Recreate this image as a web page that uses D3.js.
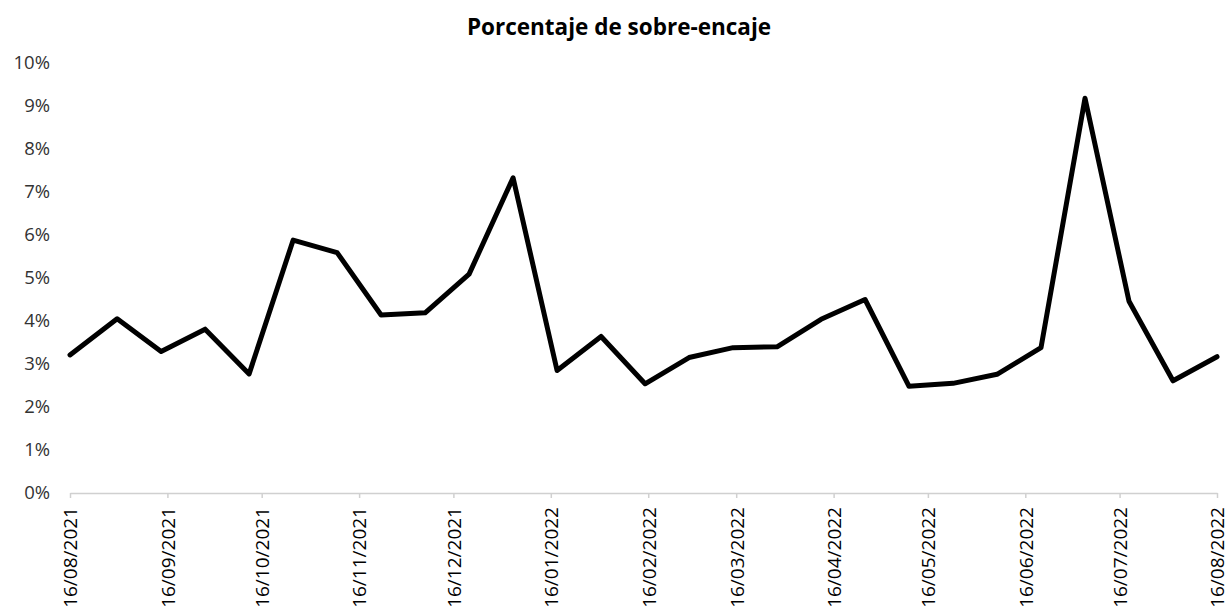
<!DOCTYPE html>
<html>
<head>
<meta charset="utf-8">
<script src="https://cdn.jsdelivr.net/npm/d3@7"></script>
<style>
  html, body { margin: 0; padding: 0; background: #fff; }
  svg { display: block; }
</style>
</head>
<body>
<svg id="chart" width="1229" height="610"></svg>
<script>
// Observation dates
const dates = [
  "16/08/2021", "31/08/2021", "14/09/2021", "28/09/2021", "12/10/2021",
  "26/10/2021", "09/11/2021", "23/11/2021", "07/12/2021", "21/12/2021",
  "04/01/2022", "18/01/2022", "01/02/2022", "15/02/2022", "01/03/2022",
  "15/03/2022", "29/03/2022", "12/04/2022", "26/04/2022", "10/05/2022",
  "24/05/2022", "07/06/2022", "21/06/2022", "05/07/2022", "19/07/2022",
  "02/08/2022", "16/08/2022"
];

// Over-reserve percentage (%)
const sobreEncaje = [
  3.21, 4.05, 3.29, 3.81, 2.77, 5.88, 5.59, 4.14, 4.19, 5.09,
  7.33, 2.85, 3.64, 2.54, 3.15, 3.38, 3.40, 4.04, 4.50, 2.48,
  2.55, 2.76, 3.38, 9.18, 4.46, 2.61, 3.17
];

// Axis tick labels
const xTickLabels = [
  "16/08/2021", "16/09/2021", "16/10/2021", "16/11/2021", "16/12/2021",
  "16/01/2022", "16/02/2022", "16/03/2022", "16/04/2022", "16/05/2022",
  "16/06/2022", "16/07/2022", "16/08/2022"
];
const yTicks = [0, 1, 2, 3, 4, 5, 6, 7, 8, 9, 10];

const title = "Porcentaje de sobre-encaje";

const parse = d3.timeParse("%d/%m/%Y");
const fmt = d3.timeFormat("%d/%m/%Y");
const data = dates.map((d, i) => ({ date: parse(d), value: sobreEncaje[i] }));
const xTickDates = xTickLabels.map(parse);

const svg = d3.select("#chart");
const margin = { left: 70, right: 12, top: 63, bottom: 117 };
const W = 1229, H = 610;

const x = d3.scaleTime()
  .domain([xTickDates[0], xTickDates[xTickDates.length - 1]])
  .range([margin.left, W - margin.right]);

const y = d3.scaleLinear()
  .domain([0, 10])
  .range([H - margin.bottom, margin.top]);

const font = "'Open Sans', 'Liberation Sans', sans-serif";

// Title
svg.append("text")
  .attr("x", 619)
  .attr("y", 35)
  .attr("text-anchor", "middle")
  .attr("font-family", font)
  .attr("font-weight", "bold")
  .attr("font-size", 22.5)
  .attr("fill", "#000")
  .text(title);

// Y axis: labels only
const yAxis = svg.append("g")
  .attr("transform", `translate(${margin.left},0)`)
  .call(d3.axisLeft(y).tickValues(yTicks).tickFormat(d => d + "%").tickSize(0).tickPadding(20));
yAxis.select(".domain").remove();
yAxis.selectAll("text")
  .attr("font-family", font)
  .attr("font-size", 18.5)
  .attr("fill", "#333");

// X axis
const xAxis = svg.append("g")
  .attr("transform", `translate(0,${y(0)})`)
  .call(d3.axisBottom(x).tickValues(xTickDates).tickFormat(fmt).tickSizeInner(5).tickSizeOuter(0));
xAxis.select(".domain").attr("stroke", "#d0d0d0").attr("stroke-width", 1.5);
xAxis.selectAll(".tick line").attr("stroke", "#d0d0d0").attr("stroke-width", 1.5);
xAxis.selectAll("text")
  .attr("font-family", font)
  .attr("font-size", 19)
  .attr("fill", "#000")
  .attr("text-anchor", "end")
  .attr("transform", "rotate(-90)")
  .attr("x", -14)
  .attr("y", 0)
  .attr("dy", "0.36em");

// Series line
const line = d3.line()
  .x(d => x(d.date))
  .y(d => y(d.value));

svg.append("path")
  .datum(data)
  .attr("fill", "none")
  .attr("stroke", "#000")
  .attr("stroke-width", 5)
  .attr("stroke-linejoin", "round")
  .attr("stroke-linecap", "round")
  .attr("d", line);
</script>
</body>
</html>
